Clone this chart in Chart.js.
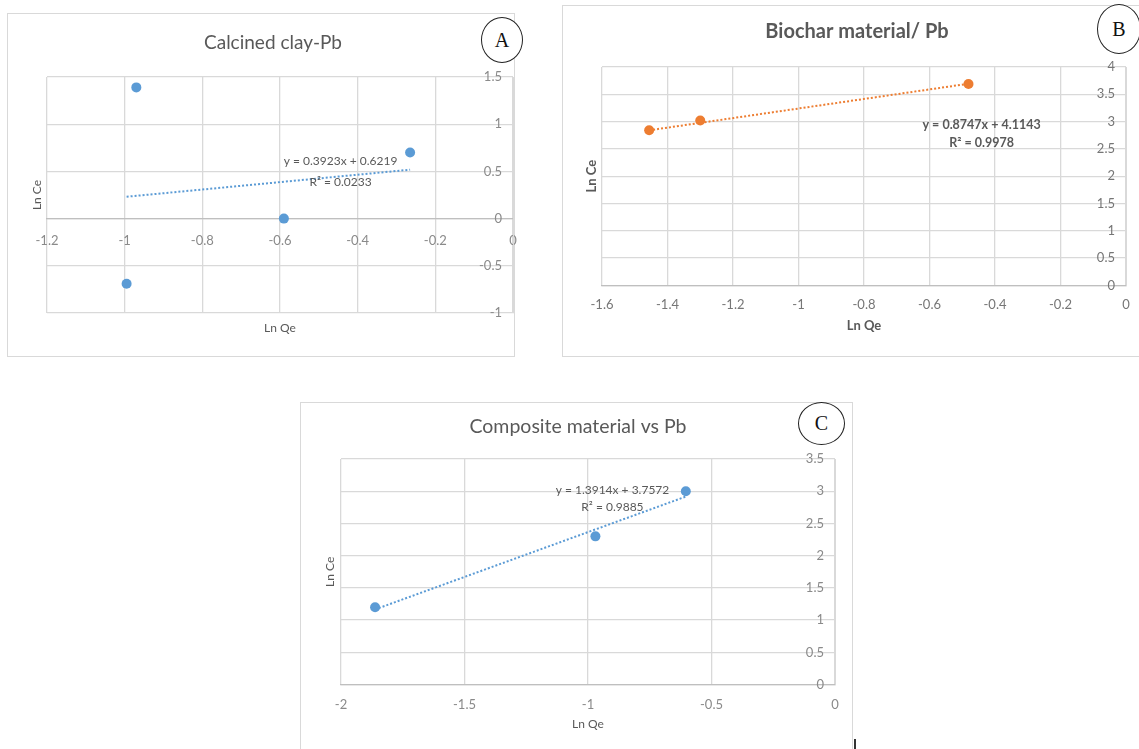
<!DOCTYPE html><html lang="en"><meta charset="utf-8">
<title>Ln Ce vs Ln Qe – Pb</title>
<script src="https://cdn.jsdelivr.net/npm/chart.js@4.4.1"></script>

<style>
*{box-sizing:border-box}
body{margin:0;width:1139px;height:749px;overflow:hidden;background:#fff;position:relative;font-family:Lato,sans-serif}
.frame{position:absolute;border:1px solid #d9d9d9}
canvas{position:absolute}
.tag{position:absolute;border:1.3px solid #222;border-radius:50%;background:#fff;display:flex;align-items:center;justify-content:center;font:20px "Liberation Serif",serif;color:#111}
</style>

<body>
<div class="frame" style="left:7px;top:13px;width:508px;height:344px"></div>
<div class="frame" style="left:562px;top:5px;width:590px;height:352px"></div>
<div class="frame" style="left:300px;top:402px;width:553px;height:360px"></div>

<canvas id="cA" width="532" height="344" style="left:7px;top:13px"></canvas>
<canvas id="cB" width="590" height="352" style="left:562px;top:5px"></canvas>
<canvas id="cC" width="556" height="347" style="left:300px;top:402px"></canvas>

<div class="tag" style="left:481px;top:17px;width:42px;height:46px">A</div>
<div class="tag" style="left:1097px;top:4px;width:44px;height:50px">B</div>
<div class="tag" style="left:798px;top:402px;width:47px;height:43px">C</div>
<div style="position:absolute;left:854px;top:739px;width:2px;height:10px;background:#333"></div>

<script>
// ---- data ----
const titles = ['Calcined clay-Pb', 'Biochar material/ Pb', 'Composite material vs Pb'];

const lnQeA = [-0.97, -0.59, -0.265, -0.995];
const lnCeA = [1.39, 0, 0.70, -0.69];
const lnQeB = [-1.456, -1.30, -0.481];
const lnCeB = [2.84, 3.02, 3.69];
const lnQeC = [-1.862, -0.97, -0.604];
const lnCeC = [1.20, 2.30, 3.00];

// linear fits (y = slope*x + intercept)
const slopes     = [0.3923, 0.8747, 1.3914];
const intercepts = [0.6219, 4.1143, 3.7572];
const rSquared   = [0.0233, 0.9978, 0.9885];

// axis ranges
const xMin  = [-1.2, -1.6, -2];
const xStep = [0.2, 0.2, 0.5];
const yMin  = [-1, 0, 0];
const yMax  = [1.5, 4, 3.5];
const yStep = [0.5, 0.5, 0.5];

const BLUE = '#5b9bd5', ORANGE = '#ed7d31', TXT = '#595959', GRID = '#d9d9d9';
const fmt = v => String(Math.round(v * 10) / 10);

// regression equation text, drawn at a data position
const eqPlugin = {
  id: 'eqLabel',
  afterDatasetsDraw(chart, args, o) {
    const {ctx, scales: {x, y}} = chart;
    const px = x.getPixelForValue(o.at[0]), py = y.getPixelForValue(o.at[1]);
    ctx.save();
    ctx.font = o.font;
    ctx.fillStyle = TXT;
    ctx.textAlign = 'center';
    ctx.textBaseline = 'middle';
    o.lines.forEach((t, i) => ctx.fillText(t, px, py + i * o.gap));
    ctx.restore();
  }
};

// value-axis labels sit just inside the right edge of the plot
const yLabelPlugin = {
  id: 'yLabels',
  afterDraw(chart, args, o) {
    const {ctx, chartArea, scales: {y}} = chart;
    ctx.save();
    ctx.font = o.font;
    ctx.fillStyle = o.color;
    ctx.textAlign = 'right';
    ctx.textBaseline = 'middle';
    y.ticks.forEach(t => ctx.fillText(fmt(t.value), chartArea.right - o.gap, y.getPixelForValue(t.value)));
    ctx.restore();
  }
};

function panel(id, i, qe, ce, color, lay) {
  const x0 = Math.min(...qe), x1 = Math.max(...qe);
  const fit = [x0, x1].map(x => ({x, y: slopes[i] * x + intercepts[i]}));
  const w = lay.bold ? 'bold' : 'normal';
  new Chart(document.getElementById(id), {
    type: 'scatter',
    data: {datasets: [
      {data: qe.map((x, k) => ({x, y: ce[k]})), backgroundColor: color, borderWidth: 0, pointRadius: 5, pointHoverRadius: 5},
      {data: fit, showLine: true, borderColor: color, borderWidth: 2, borderDash: [2, 2], pointRadius: 0, fill: false}
    ]},
    plugins: [eqPlugin, yLabelPlugin],
    options: {
      responsive: false, animation: false,
      layout: {padding: {left: lay.padL, right: lay.padR, top: 0, bottom: lay.padB}},
      plugins: {
        legend: {display: false}, tooltip: {enabled: false},
        title: {display: true, text: titles[i], color: TXT,
                font: {family: 'Lato', size: lay.titleSize, weight: w},
                padding: {top: lay.titleT, bottom: lay.titleB}},
        eqLabel: {at: lay.eqAt, gap: lay.eqGap, font: `${w} ${lay.eqSize}px Lato`,
                  lines: [`y = ${slopes[i].toFixed(4)}x + ${intercepts[i].toFixed(4)}`, `R² = ${rSquared[i].toFixed(4)}`]},
        yLabels: {gap: 11, font: '13px Lato', color: lay.tick}
      },
      scales: {
        x: {type: 'linear', position: {y: 0}, min: xMin[i], max: 0,
            ticks: {stepSize: xStep[i], callback: fmt, color: lay.tick, padding: lay.xPad, font: {family: 'Lato', size: 13}},
            grid: {color: GRID, lineWidth: 1.3, drawTicks: false},
            border: {color: '#bfbfbf', width: 1.3}},
        y: {type: 'linear', position: 'right', min: yMin[i], max: yMax[i],
            ticks: {stepSize: yStep[i], display: false},
            grid: {color: GRID, lineWidth: 1.3, drawTicks: false},
            border: {color: GRID}},
        // axis titles only
        xt: {type: 'linear', axis: 'x', position: 'bottom', ticks: {display: false},
             grid: {display: false, drawTicks: false}, border: {display: false},
             title: {display: true, text: 'Ln Qe', color: TXT, font: {family: 'Lato', size: lay.axSize, weight: w}, padding: {top: lay.qeT, bottom: 0}}},
        yt: {type: 'linear', axis: 'y', position: 'left', ticks: {display: false},
             grid: {display: false, drawTicks: false}, border: {display: false},
             title: {display: true, text: 'Ln Ce', color: TXT, font: {family: 'Lato', size: lay.axSize, weight: w}, padding: {top: lay.ceT, bottom: lay.ceB}}}
      }
    }
  });
}

panel('cA', 0, lnQeA, lnCeA, BLUE,
  {titleSize: 19, titleT: 18.6, titleB: 22.6, padL: 26, padR: 26, padB: 21.6, qeT: 8, axSize: 12, ceT: -3.2, ceB: 2.8,
   xPad: 14, tick: '#8a8a8a', eqAt: [-0.444, 0.61], eqGap: 21, eqSize: 12});
panel('cB', 1, lnQeB, lnCeB, ORANGE,
  {bold: true, titleSize: 20, titleT: 15, titleB: 23, padL: 26, padR: 26, padB: 23, qeT: 33, axSize: 13, ceT: -3.8, ceB: 2.2,
   xPad: 12, tick: '#767676', eqAt: [-0.441, 2.936], eqGap: 18, eqSize: 12.5});
panel('cC', 2, lnQeC, lnCeC, BLUE,
  {titleSize: 19.5, titleT: 13.3, titleB: 20.3, padL: 21, padR: 21, padB: 18, qeT: 32, axSize: 12, ceT: 1.8, ceB: 3.8,
   xPad: 12, tick: '#8a8a8a', eqAt: [-0.901, 3.02], eqGap: 17, eqSize: 12});
</script>
</body></html>
